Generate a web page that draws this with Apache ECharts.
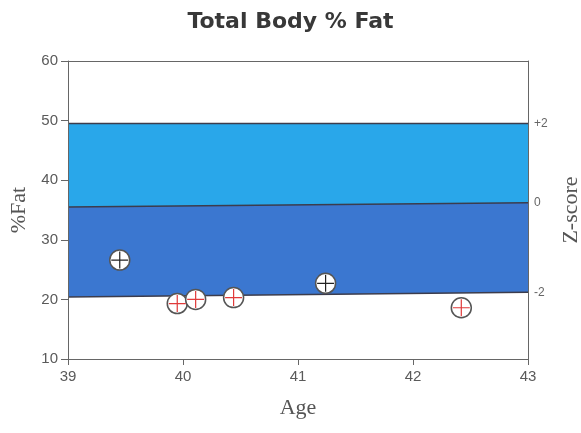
<!DOCTYPE html>
<html>
<head>
<meta charset="utf-8">
<script src="https://cdn.jsdelivr.net/npm/echarts@6/dist/echarts.min.js"></script>
<style>
html,body{margin:0;padding:0;background:#fff;}
#chart{width:581px;height:433px;}
</style>
</head>
<body>
<div id="chart"></div>
<script>
// Band boundaries (at age 39 and 43)
const bandAges = [39, 43];
const zPlus2 = [49.5, 49.5];
const zZero = [35.5, 36.2];
const zMinus2 = [20.4, 21.2];
const zLabels = ['+2', '0', '-2'];

// Measurements: black-cross points and red-cross points
const ageBlack = [39.45, 41.24];
const fatBlack = [26.6, 22.7];
const ageRed = [39.95, 40.11, 40.44, 42.42];
const fatRed = [19.3, 20.0, 20.3, 18.6];

const pairs = (xs, ys) => xs.map((x, i) => [x, ys[i]]);

const tickFont = { fontFamily: 'Liberation Sans, Arial, sans-serif', fontSize: 15, color: '#5a5a5a' };
const serifName = { fontFamily: 'Liberation Serif, Times New Roman, serif', fontSize: 22, color: '#555' };
const axisLineStyle = { color: '#666', width: 1 };

function band(values, fill, label) {
  return {
    type: 'line',
    data: pairs(bandAges, values),
    symbol: 'none',
    silent: true,
    z: 1,
    lineStyle: { color: '#3c3c4c', width: 1.5 },
    areaStyle: { color: fill, opacity: 1, origin: 'start' },
    endLabel: {
      show: true,
      formatter: () => label,
      color: '#666',
      fontSize: 12,
      fontFamily: 'Liberation Sans, Arial, sans-serif',
      distance: 6
    }
  };
}

const crossPath = 'path://M10,0L10,20M0,10L20,10';

function circles(xs, ys) {
  return {
    type: 'scatter',
    data: pairs(xs, ys),
    symbol: 'circle',
    symbolSize: 20,
    z: 5,
    itemStyle: { color: '#ffffff', borderColor: '#555', borderWidth: 1.5, opacity: 1 }
  };
}
function crosses(xs, ys, col) {
  return {
    type: 'scatter',
    data: pairs(xs, ys),
    symbol: crossPath,
    symbolSize: 17,
    z: 6,
    itemStyle: { color: 'rgba(0,0,0,0)', borderColor: col, borderWidth: 1.2, opacity: 1 }
  };
}

const chart = echarts.init(document.getElementById('chart'), null, { renderer: 'canvas' });
chart.setOption({
  animation: false,
  backgroundColor: '#fff',
  title: {
    text: 'Total Body % Fat',
    left: 'center',
    top: 6,
    textStyle: { fontFamily: 'DejaVu Sans, sans-serif', fontWeight: 'bold', fontSize: 22, color: '#383838' }
  },
  grid: { left: 68, right: 53, top: 61, bottom: 74, containLabel: false, outerBoundsMode: 'none' },
  xAxis: [{
    type: 'value',
    min: 39, max: 43, interval: 1,
    z: 10,
    name: 'Age',
    nameLocation: 'middle',
    nameGap: 38,
    nameTextStyle: serifName,
    axisLine: { show: true, onZero: false, lineStyle: axisLineStyle },
    axisTick: { show: true, inside: false, length: 6, lineStyle: axisLineStyle },
    axisLabel: Object.assign({ margin: 10 }, tickFont),
    splitLine: { show: false }
  }, {
    type: 'value',
    position: 'top',
    min: 39, max: 43,
    z: 10,
    axisLine: { show: true, onZero: false, lineStyle: axisLineStyle },
    axisTick: { show: false },
    axisLabel: { show: false },
    splitLine: { show: false }
  }],
  yAxis: [{
    type: 'value',
    min: 10, max: 60, interval: 10,
    z: 10,
    name: '%Fat',
    nameLocation: 'middle',
    nameRotate: 90,
    nameGap: 38,
    nameTextStyle: serifName,
    axisLine: { show: true, onZero: false, lineStyle: axisLineStyle },
    axisTick: { show: true, inside: false, length: 7, lineStyle: axisLineStyle },
    axisLabel: Object.assign({ margin: 10 }, tickFont),
    splitLine: { show: false }
  }, {
    type: 'value',
    position: 'right',
    min: 10, max: 60,
    z: 10,
    name: 'Z-score',
    nameLocation: 'middle',
    nameRotate: 90,
    nameGap: 32,
    nameTextStyle: serifName,
    axisLine: { show: true, onZero: false, lineStyle: axisLineStyle },
    axisTick: { show: false },
    axisLabel: { show: false },
    splitLine: { show: false }
  }],
  series: [
    band(zPlus2, '#29a7ea', zLabels[0]),
    band(zZero, '#3b77d0', zLabels[1]),
    band(zMinus2, '#ffffff', zLabels[2]),
    circles(ageBlack, fatBlack),
    circles(ageRed, fatRed),
    crosses(ageBlack, fatBlack, '#222'),
    crosses(ageRed, fatRed, '#e03a3a')
  ]
});
</script>
</body>
</html>
